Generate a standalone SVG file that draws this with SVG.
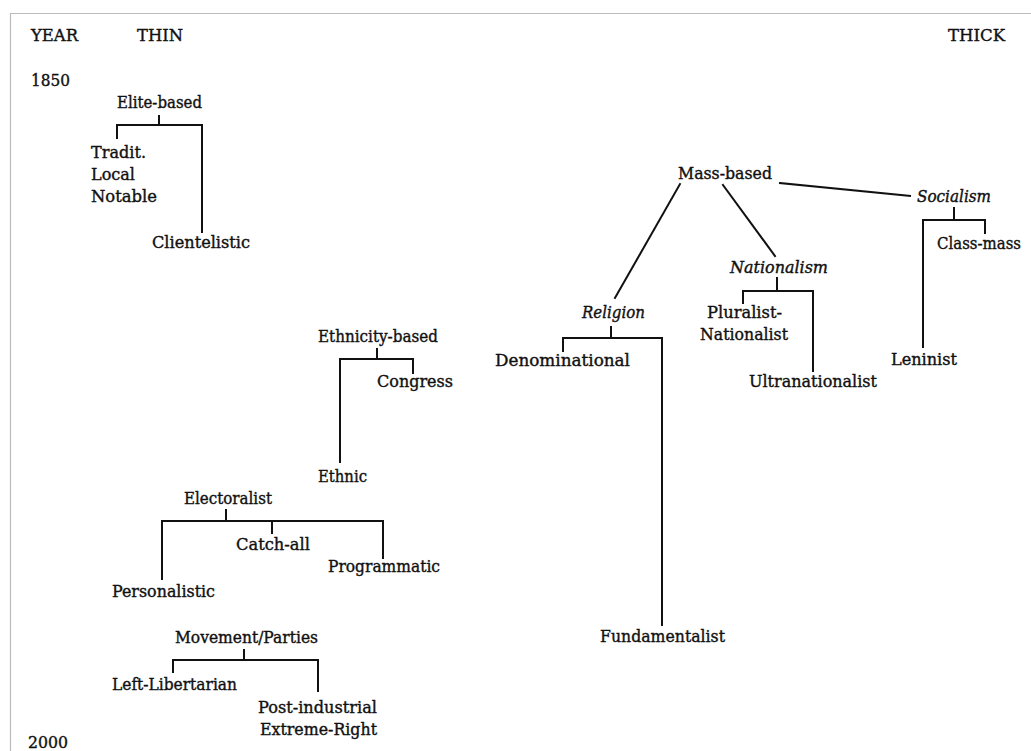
<svg xmlns="http://www.w3.org/2000/svg" width="1031" height="751" viewBox="0 0 1031 751">
<style>
text{font-family:"DejaVu Serif","Liberation Serif",serif;font-size:17px;fill:#111;stroke:#111;stroke-width:0.4}
.it{font-style:italic}
.c{fill:none;stroke:#111;stroke-width:2;stroke-linecap:square;stroke-linejoin:miter}
.frame{fill:none;stroke:#bbb;stroke-width:1.2}
</style>
<rect width="1031" height="751" fill="#fff"/>
<path class="frame" d="M10.5,751 V13.5 H1031"/>
<g id="axis">
<text x="31" y="41" textLength="47" lengthAdjust="spacingAndGlyphs">YEAR</text>
<text x="137" y="41" textLength="46" lengthAdjust="spacingAndGlyphs">THIN</text>
<text x="948" y="41" textLength="57" lengthAdjust="spacingAndGlyphs">THICK</text>
<text x="31" y="86" textLength="39" lengthAdjust="spacingAndGlyphs">1850</text>
<text x="28" y="748" textLength="40" lengthAdjust="spacingAndGlyphs">2000</text>
</g>
<g id="connectors">
<path class="c" d="M159,116 V125 M117,138 V125 H202 V232"/>
<path class="c" d="M780,183 L910,196"/>
<path class="c" d="M680,184 L615,298"/>
<path class="c" d="M723,185 L775,256"/>
<path class="c" d="M954,208 V220 M923,347 V220 H985 V233"/>
<path class="c" d="M611,327 V338 M563,351 V338 H662 V625"/>
<path class="c" d="M777,278 V291 M743,303 V291 H813 V371"/>
<path class="c" d="M377,349 V359 M340,462 V359 H413 V373"/>
<path class="c" d="M226,510 V521 M162,579 V521 H383 V558 M272,521 V533"/>
<path class="c" d="M244,650 V660 M173,672 V660 H318 V691"/>
</g>
<g id="elite-based"><text x="117" y="108" textLength="85" lengthAdjust="spacingAndGlyphs">Elite-based</text></g>
<g id="tradit-local-notable">
<text x="91" y="158" textLength="55" lengthAdjust="spacingAndGlyphs">Tradit.</text>
<text x="91" y="180" textLength="44" lengthAdjust="spacingAndGlyphs">Local</text>
<text x="91" y="202" textLength="66" lengthAdjust="spacingAndGlyphs">Notable</text>
</g>
<g id="clientelistic"><text x="152" y="248" textLength="98" lengthAdjust="spacingAndGlyphs">Clientelistic</text></g>
<g id="mass-based"><text x="678" y="179" textLength="94" lengthAdjust="spacingAndGlyphs">Mass-based</text></g>
<g id="socialism"><text class="it" x="917" y="202" textLength="74" lengthAdjust="spacingAndGlyphs">Socialism</text></g>
<g id="class-mass"><text x="937" y="249" font-size="15" textLength="84" lengthAdjust="spacingAndGlyphs">Class-mass</text></g>
<g id="leninist"><text x="891" y="365" textLength="66" lengthAdjust="spacingAndGlyphs">Leninist</text></g>
<g id="nationalism"><text class="it" x="730" y="273" textLength="98" lengthAdjust="spacingAndGlyphs">Nationalism</text></g>
<g id="pluralist-nationalist">
<text x="707" y="318" textLength="75" lengthAdjust="spacingAndGlyphs">Pluralist-</text>
<text x="700" y="340" textLength="88" lengthAdjust="spacingAndGlyphs">Nationalist</text>
</g>
<g id="ultranationalist"><text x="749" y="387" textLength="128" lengthAdjust="spacingAndGlyphs">Ultranationalist</text></g>
<g id="religion"><text class="it" x="582" y="318" textLength="63" lengthAdjust="spacingAndGlyphs">Religion</text></g>
<g id="denominational"><text x="495" y="366" textLength="135" lengthAdjust="spacingAndGlyphs">Denominational</text></g>
<g id="fundamentalist"><text x="600" y="642" textLength="125" lengthAdjust="spacingAndGlyphs">Fundamentalist</text></g>
<g id="ethnicity-based"><text x="318" y="342" textLength="120" lengthAdjust="spacingAndGlyphs">Ethnicity-based</text></g>
<g id="congress"><text x="377" y="387" textLength="76" lengthAdjust="spacingAndGlyphs">Congress</text></g>
<g id="ethnic"><text x="318" y="482" textLength="49" lengthAdjust="spacingAndGlyphs">Ethnic</text></g>
<g id="electoralist"><text x="184" y="504" textLength="88" lengthAdjust="spacingAndGlyphs">Electoralist</text></g>
<g id="catch-all"><text x="236" y="550" textLength="74" lengthAdjust="spacingAndGlyphs">Catch-all</text></g>
<g id="programmatic"><text x="328" y="572" textLength="112" lengthAdjust="spacingAndGlyphs">Programmatic</text></g>
<g id="personalistic"><text x="112" y="597" textLength="103" lengthAdjust="spacingAndGlyphs">Personalistic</text></g>
<g id="movement-parties"><text x="175" y="643" textLength="143" lengthAdjust="spacingAndGlyphs">Movement/Parties</text></g>
<g id="left-libertarian"><text x="112" y="690" textLength="125" lengthAdjust="spacingAndGlyphs">Left-Libertarian</text></g>
<g id="post-industrial-extreme-right">
<text x="258" y="713" textLength="119" lengthAdjust="spacingAndGlyphs">Post-industrial</text>
<text x="260" y="735" textLength="117" lengthAdjust="spacingAndGlyphs">Extreme-Right</text>
</g>
</svg>
